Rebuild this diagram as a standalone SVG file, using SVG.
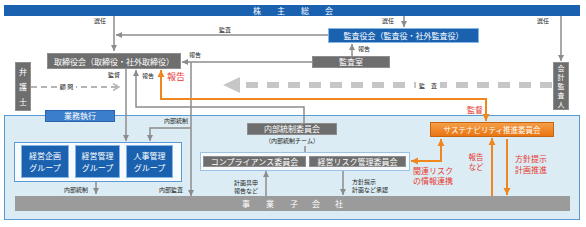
<svg xmlns="http://www.w3.org/2000/svg" width="586" height="227" viewBox="0 0 586 227">
<defs>
<style>
text{font-family:"Noto Sans CJK JP","Noto Sans",sans-serif;}
.w{fill:#fff;font-size:8px;text-anchor:middle;}
.s{fill:#222;font-size:6px;text-anchor:middle;}
.r{fill:#e8382f;font-size:8px;text-anchor:middle;}
.g{stroke:#8c8c8c;stroke-width:1.5;fill:none;}
.o{stroke:#f0861e;stroke-width:2;fill:none;}
.gbox{fill:#6e6e6e;stroke:#8e8e8e;stroke-width:1;}
.bbox{fill:#1a62b0;stroke:#86b6e4;stroke-width:1;}
</style>
<marker id="ag" markerUnits="userSpaceOnUse" markerWidth="7" markerHeight="7" refX="6" refY="3.5" orient="auto-start-reverse"><path d="M0,0.5 L6,3.5 L0,6.5 z" fill="#8c8c8c"/></marker>
<marker id="ao" markerUnits="userSpaceOnUse" markerWidth="8" markerHeight="8" refX="7" refY="4" orient="auto-start-reverse"><path d="M0,0.5 L7,4 L0,7.5 z" fill="#f0861e"/></marker>
<marker id="ac" markerUnits="userSpaceOnUse" markerWidth="8" markerHeight="8" refX="7" refY="4" orient="auto"><path d="M1,0.5 L7,4 L1,7.5" fill="none" stroke="#b4b4b4" stroke-width="1.5"/></marker>
<linearGradient id="og" x1="0" y1="0" x2="0" y2="1"><stop offset="0" stop-color="#f6a04a"/><stop offset="1" stop-color="#e8740f"/></linearGradient>
</defs>

<!-- background region -->
<rect x="4.5" y="115.5" width="575" height="104" fill="#dcecf4" stroke="#5b9bd5"/>

<g id="connectors">
<!-- 選任 -->
<path class="g" d="M114,16 V51" marker-end="url(#ag)"/>
<text class="s" x="100" y="23">選任</text>
<path class="g" d="M404,16 V27" marker-end="url(#ag)"/>
<text class="s" x="388" y="23">選任</text>
<path class="g" d="M561,16 V61" marker-end="url(#ag)"/>
<text class="s" x="543" y="23">選任</text>
<!-- 監査 監査役会→取締役会 -->
<path class="g" d="M328,35 H116" marker-end="url(#ag)"/>
<text class="s" x="225" y="32">監査</text>
<!-- 監査室→監査役会 -->
<path class="g" d="M352,56 V44" marker-end="url(#ag)"/>
<text class="s" x="364" y="51">報告</text>
<!-- 監査室→取締役会 -->
<path class="g" d="M312,62 H182" marker-end="url(#ag)"/>
<text class="s" x="195" y="57">報告</text>
<!-- 内部監査 -->
<path class="g" d="M191,62 V196" marker-end="url(#ag)"/>
<text class="s" x="171" y="192">内部監査</text>
<!-- 内部統制 to groups -->
<path class="g" d="M191,128 H150 V141" marker-end="url(#ag)"/>
<text class="s" x="176" y="123">内部統制</text>
<!-- 監督 -->
<path class="g" d="M126,69 V141" marker-end="url(#ag)"/>
<text class="s" x="114" y="77">監督</text>
<!-- 報告 内部統制委員会→取締役会 -->
<path class="g" d="M304,123 V107 H136 V70" marker-end="url(#ag)"/>
<text class="s" x="148" y="78">報告</text>
<!-- big dashed 監査 -->
<line x1="552" y1="85" x2="238" y2="85" stroke="#c6c6c6" stroke-width="6" stroke-dasharray="12 9"/>
<polygon points="223,85 240,77 240,93" fill="#c6c6c6"/>
<rect x="416" y="80" width="24" height="10" fill="#fff"/>
<text class="s" x="428" y="88">監　査</text>
<!-- 顧問 -->
<path d="M31,87 H119" stroke="#b4b4b4" stroke-width="2" stroke-dasharray="6 4" fill="none" marker-end="url(#ac)"/>
<rect x="57" y="82" width="19" height="10" fill="#fff"/>
<text class="s" x="66.5" y="89">顧 問</text>
<!-- groups → 事業子会社 -->
<path class="g" d="M96,182 V194" marker-end="url(#ag)"/>
<text class="s" x="76" y="192">内部統制</text>
<!-- 内部統制委員会 to committees -->
<path class="g" d="M305,146 V152"/>
<!-- 計画具申 -->
<path class="g" d="M266,196 V171" marker-end="url(#ag)"/>
<text class="s" x="246" y="185">計画具申</text>
<text class="s" x="246" y="193">報告など</text>
<!-- 方針提示 -->
<path class="g" d="M343,171 V195" marker-end="url(#ag)"/>
<text class="s" x="352" y="184" style="text-anchor:start">方針提示</text>
<text class="s" x="352" y="192" style="text-anchor:start">計画など承認</text>
<!-- orange 報告/監督 -->
<path class="o" d="M161,70 V99 H486 V121" marker-start="url(#ao)" marker-end="url(#ao)"/>
<text class="r" x="176" y="80" style="font-size:9px">報告</text>
<text class="r" x="475" y="113">監督</text>
<!-- 関連リスク -->
<path class="o" d="M411,161 H441 V139" marker-start="url(#ao)" marker-end="url(#ao)"/>
<text class="r" x="433" y="174">関連リスク</text>
<text class="r" x="433" y="184">の情報連携</text>
<!-- 報告など -->
<path class="o" d="M492,196 V138" marker-end="url(#ao)"/>
<text class="r" x="476" y="160" style="font-size:7.5px">報告</text>
<text class="r" x="476" y="170" style="font-size:7.5px">など</text>
<!-- 方針提示 計画推進 -->
<path class="o" d="M507,139 V195" marker-end="url(#ao)"/>
<text class="r" x="531" y="162">方針提示</text>
<text class="r" x="531" y="173">計画推進</text>
</g>

<g id="shareholders">
<rect x="4" y="5" width="576" height="11" fill="#1a62b0"/>
<text class="w" x="257" y="13.5">株</text><text class="w" x="281" y="13.5">主</text><text class="w" x="305" y="13.5">総</text><text class="w" x="329" y="13.5">会</text>
</g>
<g id="board">
<rect class="gbox" x="47.5" y="53.5" width="133" height="15"/>
<text class="w" x="114" y="64.5">取締役会（取締役・社外取締役）</text>
</g>
<g id="auditboard">
<rect class="bbox" x="328.5" y="28.5" width="150" height="14"/>
<text class="w" x="403.5" y="38.5">監査役会（監査役・社外監査役）</text>
</g>
<g id="auditoffice">
<rect class="gbox" x="312.5" y="56.5" width="77" height="11"/>
<text class="w" x="351" y="65">監査室</text>
</g>
<g id="lawyer">
<rect class="gbox" x="15.5" y="62.5" width="15" height="48"/>
<text class="w" x="23" y="75">弁</text><text class="w" x="23" y="90">護</text><text class="w" x="23" y="105">士</text>
</g>
<g id="accountant">
<rect class="gbox" x="553.5" y="62.5" width="15" height="47"/>
<text class="w" x="561" y="71" style="font-size:7px">会</text><text class="w" x="561" y="80" style="font-size:7px">計</text><text class="w" x="561" y="89" style="font-size:7px">監</text><text class="w" x="561" y="98" style="font-size:7px">査</text><text class="w" x="561" y="107" style="font-size:7px">人</text>
</g>
<g id="execution">
<rect x="45.5" y="110.5" width="69" height="11" fill="#3b7ecb" stroke="#2b66ad"/>
<text class="w" x="80" y="119">業務執行</text>
</g>
<g id="groups">
<rect x="14.5" y="142.5" width="167" height="39" fill="#f7fbfd" stroke="#5b9bd5"/>
<rect class="bbox" x="21.5" y="145.5" width="47" height="32"/>
<text class="w" x="45" y="159">経営企画</text><text class="w" x="45" y="171">グループ</text>
<rect class="bbox" x="75.5" y="145.5" width="44" height="32"/>
<text class="w" x="97.5" y="159">経営管理</text><text class="w" x="97.5" y="171">グループ</text>
<rect class="bbox" x="126.5" y="145.5" width="46" height="32"/>
<text class="w" x="149.5" y="159">人事管理</text><text class="w" x="149.5" y="171">グループ</text>
</g>
<g id="internalcontrol">
<rect class="gbox" x="247.5" y="123.5" width="89" height="11"/>
<text class="w" x="292" y="132">内部統制委員会</text>
<text class="s" x="292" y="143">（内部統制チーム）</text>
</g>
<g id="committees">
<rect x="200.5" y="152.5" width="209" height="18" fill="#f7fbfd" stroke="#9cc3e5"/>
<rect class="gbox" x="203.5" y="156.5" width="102" height="10"/>
<text class="w" x="254.5" y="164.5">コンプライアンス委員会</text>
<rect class="gbox" x="309.5" y="156.5" width="96" height="10"/>
<text class="w" x="357.5" y="164.5">経営リスク管理委員会</text>
</g>
<g id="sustainability">
<rect x="430.5" y="122.5" width="123" height="14" fill="url(#og)" stroke="#c86410"/>
<text class="w" x="492" y="132.5" style="font-size:7.5px">サステナビリティ推進委員会</text>
</g>
<g id="subsidiaries">
<rect x="15" y="196" width="555" height="15" fill="#9b9b9b"/>
<text class="w" x="246" y="206.5">事</text><text class="w" x="270" y="206.5">業</text><text class="w" x="294" y="206.5">子</text><text class="w" x="316" y="206.5">会</text><text class="w" x="339" y="206.5">社</text>
</g>
</svg>
